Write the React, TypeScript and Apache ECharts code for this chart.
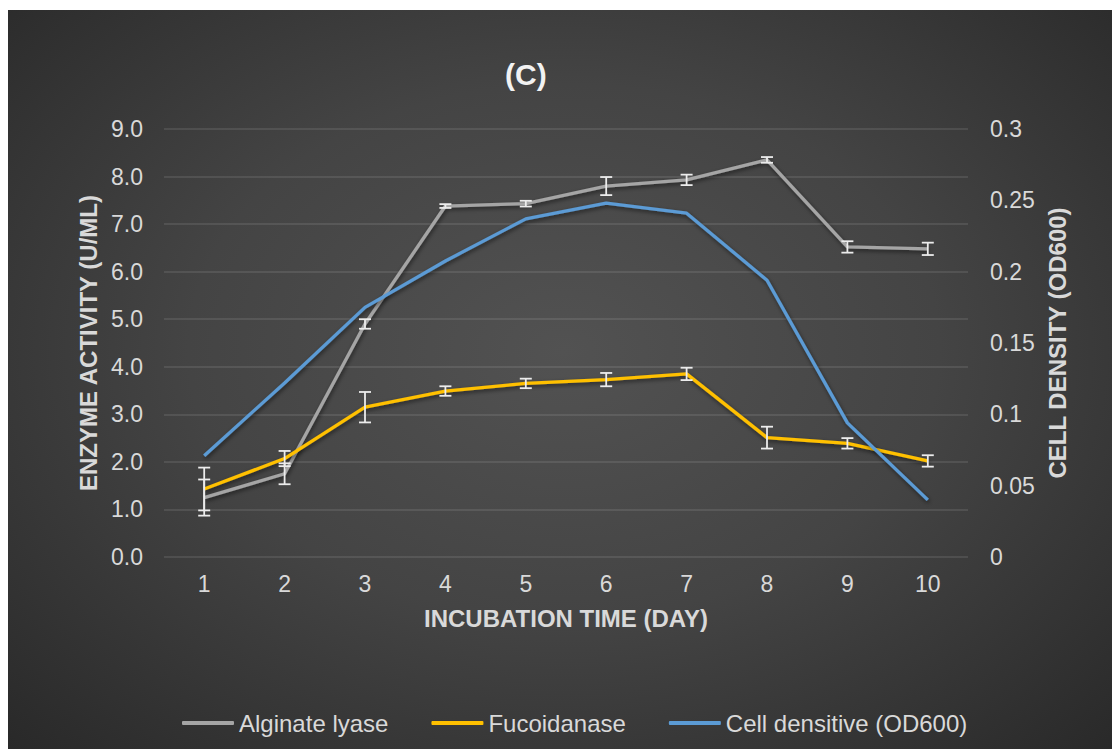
import React, { useEffect, useRef } from "react";
import * as echarts from "echarts";

// Incubation days (x axis categories)
const days = ["1", "2", "3", "4", "5", "6", "7", "8", "9", "10"];

// Enzyme activity (U/mL), left axis
const alginateLyase = [1.25, 1.75, 4.9, 7.38, 7.43, 7.8, 7.93, 8.35, 6.52, 6.48];
const alginateLyaseErr = [0.38, 0.22, 0.1, 0.04, 0.06, 0.19, 0.11, 0.06, 0.12, 0.13];
const fucoidanase = [1.43, 2.07, 3.15, 3.49, 3.65, 3.73, 3.85, 2.51, 2.39, 2.02];
const fucoidanaseErr = [0.45, 0.16, 0.32, 0.1, 0.1, 0.14, 0.13, 0.23, 0.11, 0.12];

// Cell density (OD600), right axis
const cellDensity = [0.071, 0.122, 0.175, 0.2075, 0.237, 0.248, 0.241, 0.194, 0.094, 0.04];

// Left axis ticks
const leftMin = 0;
const leftMax = 9;
const leftStep = 1;
// Right axis ticks
const rightMin = 0;
const rightMax = 0.3;
const rightStep = 0.05;

const FONT = "'Liberation Sans', Arial, sans-serif";
const TEXT = "#d9d9d9";

const GRAY = "#a5a5a5";
const GOLD = "#ffc000";
const BLUE = "#5b9bd5";

const errorData = (vals: number[], errs: number[]) =>
  vals.map((v, i) => [i, v - errs[i], v + errs[i]]);

const renderErrorBar = (params: any, api: any) => {
  const x = api.value(0);
  const lo = api.coord([x, api.value(1)]);
  const hi = api.coord([x, api.value(2)]);
  const half = 6;
  const style = { stroke: "#ececec", lineWidth: 1.8 };
  return {
    type: "group",
    children: [
      { type: "line", shape: { x1: lo[0], y1: lo[1], x2: hi[0], y2: hi[1] }, style },
      { type: "line", shape: { x1: lo[0] - half, y1: lo[1], x2: lo[0] + half, y2: lo[1] }, style },
      { type: "line", shape: { x1: hi[0] - half, y1: hi[1], x2: hi[0] + half, y2: hi[1] }, style },
    ],
  };
};

const shadow = {
  shadowColor: "rgba(0,0,0,0.55)",
  shadowBlur: 4,
  shadowOffsetX: 1,
  shadowOffsetY: 2,
};

export default function App() {
  const ref = useRef<HTMLDivElement>(null);

  useEffect(() => {
    if (!ref.current) return;
    const chart = echarts.init(ref.current, undefined, { renderer: "svg" });
    chart.setOption({
      animation: false,
      backgroundColor: "transparent",
      textStyle: { fontFamily: FONT },
      title: {
        text: "(C)",
        left: 492,
        top: 44,
        textStyle: { color: "#f2f2f2", fontSize: 30, fontWeight: "bold", fontFamily: FONT },
      },
      legend: {
        data: ["Alginate lyase", "Fucoidanase", "Cell densitive (OD600)"],
        left: 169,
        top: 696,
        icon: "roundRect",
        itemWidth: 52,
        itemHeight: 4,
        itemGap: 43,
        textStyle: { color: TEXT, fontSize: 24, fontFamily: FONT },
      },
      grid: { left: 156, right: 152, top: 119, bottom: 194, containLabel: false },
      xAxis: {
        type: "category",
        data: days,
        boundaryGap: true,
        name: "INCUBATION TIME (DAY)",
        nameLocation: "middle",
        nameGap: 49,
        nameTextStyle: { color: TEXT, fontSize: 24, fontWeight: "bold", fontFamily: FONT },
        axisLine: { show: false },
        axisTick: { show: false },
        axisLabel: { color: TEXT, fontSize: 23, margin: 15, fontFamily: FONT },
      },
      yAxis: [
        {
          type: "value",
          min: leftMin,
          max: leftMax,
          interval: leftStep,
          name: "ENZYME ACTIVITY (U/ML)",
          nameLocation: "middle",
          nameRotate: 90,
          nameGap: 57,
          nameTextStyle: { color: TEXT, fontSize: 24, fontWeight: "bold", fontFamily: FONT },
          axisLine: { show: false },
          axisTick: { show: false },
          axisLabel: {
            color: TEXT,
            fontSize: 23,
            margin: 21,
            fontFamily: FONT,
            formatter: (v: number) => v.toFixed(1),
          },
          splitLine: { lineStyle: { color: "rgba(255,255,255,0.13)", width: 1.5 } },
        },
        {
          type: "value",
          min: rightMin,
          max: rightMax,
          interval: rightStep,
          position: "right",
          name: "CELL DENSITY (OD600)",
          nameLocation: "middle",
          nameRotate: 90,
          nameGap: 73,
          nameTextStyle: { color: TEXT, fontSize: 24, fontWeight: "bold", fontFamily: FONT },
          axisLine: { show: false },
          axisTick: { show: false },
          axisLabel: {
            color: TEXT,
            fontSize: 23,
            margin: 22,
            fontFamily: FONT,
            formatter: (v: number) => String(Math.round(v * 100) / 100),
          },
          splitLine: { show: false },
        },
      ],
      series: [
        {
          name: "Alginate lyase",
          type: "line",
          data: alginateLyase,
          yAxisIndex: 0,
          color: GRAY,
          symbol: "none",
          lineStyle: { color: GRAY, width: 3.3, ...shadow },
          z: 3,
        },
        {
          name: "Fucoidanase",
          type: "line",
          data: fucoidanase,
          yAxisIndex: 0,
          color: GOLD,
          symbol: "none",
          lineStyle: { color: GOLD, width: 3.3, ...shadow },
          z: 3,
        },
        {
          name: "Cell densitive (OD600)",
          type: "line",
          data: cellDensity,
          yAxisIndex: 1,
          color: BLUE,
          symbol: "none",
          lineStyle: { color: BLUE, width: 3.3, ...shadow },
          z: 3,
        },
        {
          name: "alginate-error",
          type: "custom",
          yAxisIndex: 0,
          renderItem: renderErrorBar,
          data: errorData(alginateLyase, alginateLyaseErr),
          encode: { x: 0, y: [1, 2] },
          z: 4,
          silent: true,
        },
        {
          name: "fucoidanase-error",
          type: "custom",
          yAxisIndex: 0,
          renderItem: renderErrorBar,
          data: errorData(fucoidanase, fucoidanaseErr),
          encode: { x: 0, y: [1, 2] },
          z: 4,
          silent: true,
        },
      ],
    });
    return () => chart.dispose();
  }, []);

  return (
    <div
      ref={ref}
      style={{
        position: "relative",
        top: 2,
        width: 1112,
        height: 741,
        background:
          "radial-gradient(ellipse 75% 80% at 50% 46%, #525252 0%, #444444 45%, #2e2e2e 85%, #262626 100%)",
      }}
    />
  );
}
